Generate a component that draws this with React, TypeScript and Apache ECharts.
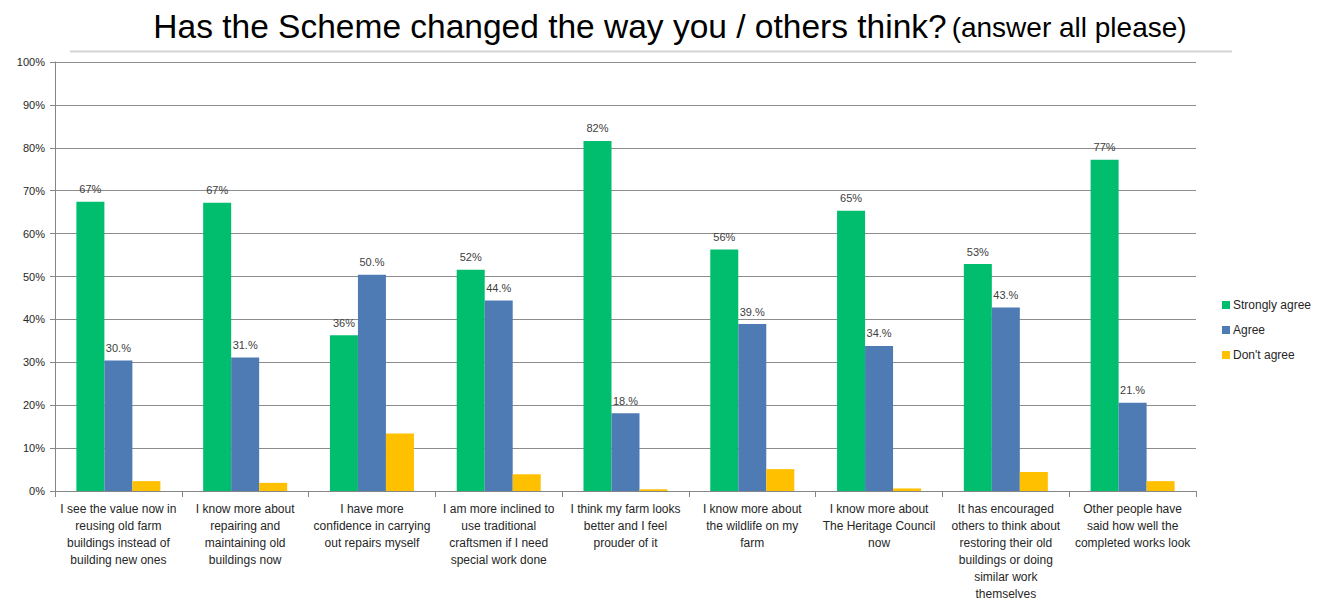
import React, { useEffect, useRef } from "react";
import * as echarts from "echarts";

const categories = [
  "I see the value now in\nreusing old farm\nbuildings instead of\nbuilding new ones",
  "I know more about\nrepairing and\nmaintaining old\nbuildings now",
  "I have more\nconfidence in carrying\nout repairs myself",
  "I am more inclined to\nuse traditional\ncraftsmen if I need\nspecial work done",
  "I think my farm looks\nbetter and I feel\nprouder of it",
  "I know more about\nthe wildlife on my\nfarm",
  "I know more about\nThe Heritage Council\nnow",
  "It has encouraged\nothers to think about\nrestoring their old\nbuildings or doing\nsimilar work\nthemselves",
  "Other people have\nsaid how well the\ncompleted works look",
];

const stronglyAgree = [67.4, 67.2, 36.3, 51.6, 81.6, 56.3, 65.3, 52.9, 77.2];
const agree = [30.4, 31.1, 50.4, 44.4, 18.1, 38.9, 33.8, 42.8, 20.6];
const dontAgree = [2.3, 1.9, 13.4, 3.9, 0.4, 5.1, 0.6, 4.4, 2.3];

const yTicks = [0, 10, 20, 30, 40, 50, 60, 70, 80, 90, 100];

const seriesNames = ["Strongly agree", "Agree", "Don't agree"];
const colors = ["#00BE6E", "#4F7BB5", "#FFC000"];

const FONT = "Liberation Sans, Arial, sans-serif";

export default function App() {
  const ref = useRef<HTMLDivElement>(null);

  useEffect(() => {
    if (!ref.current) return;
    const chart = echarts.init(ref.current, null, { renderer: "svg" });
    const labelCommon = {
      show: true,
      position: "top" as const,
      distance: 7,
      color: "#404040",
      fontSize: 11,
      fontFamily: FONT,
    };
    chart.setOption({
      animation: false,
      backgroundColor: "#ffffff",
      title: {
        text: "{big|Has the Scheme changed the way you / others think?} {small|(answer all please)}",
        left: 665,
        textAlign: "center",
        top: 4,
        textStyle: {
          fontWeight: "normal",
          rich: {
            big: { fontSize: 33.5, fontFamily: FONT, color: "#000000", fontWeight: "normal" },
            small: { fontSize: 28, fontFamily: FONT, color: "#000000", fontWeight: "normal", padding: [2, 0, 0, 0] },
          },
        },
      },
      graphic: [
        {
          type: "line",
          shape: { x1: 70, y1: 51.5, x2: 1232, y2: 51.5 },
          style: { stroke: "#d4d4d4", lineWidth: 2 },
        },
      ],
      legend: {
        orient: "vertical",
        left: 1217,
        top: 294,
        itemWidth: 8,
        itemHeight: 8,
        itemGap: 13,
        icon: "rect",
        data: seriesNames,
        textStyle: { fontSize: 12, fontFamily: FONT, color: "#262626", padding: [0, 0, 0, -2] },
      },
      grid: { left: 55, right: 132, top: 62, bottom: 110, containLabel: false },
      xAxis: {
        type: "category",
        data: categories,
        axisLine: { lineStyle: { color: "#868686" } },
        axisTick: { show: true, alignWithLabel: false, length: 6, lineStyle: { color: "#868686" } },
        axisLabel: {
          interval: 0,
          color: "#262626",
          fontSize: 12,
          fontFamily: FONT,
          lineHeight: 17,
          margin: 9,
        },
      },
      yAxis: {
        type: "value",
        min: 0,
        max: 100,
        interval: 10,
        axisLine: { show: true, lineStyle: { color: "#868686" } },
        axisTick: { show: true, length: 5, lineStyle: { color: "#868686" } },
        splitLine: { lineStyle: { color: "#8c8c8c" } },
        axisLabel: {
          color: "#262626",
          fontSize: 11,
          fontFamily: FONT,
          margin: 10,
          formatter: (v: number) => (yTicks.includes(v) ? v + "%" : ""),
        },
      },
      series: [
        {
          name: seriesNames[0],
          type: "bar",
          data: stronglyAgree,
          barWidth: 28,
          barGap: "0%",
          itemStyle: { color: colors[0] },
          label: { ...labelCommon, formatter: (p: any) => Math.round(p.value) + "%" },
        },
        {
          name: seriesNames[1],
          type: "bar",
          data: agree,
          barWidth: 28,
          barGap: "0%",
          itemStyle: { color: colors[1] },
          label: { ...labelCommon, formatter: (p: any) => Math.round(p.value) + ".%" },
        },
        {
          name: seriesNames[2],
          type: "bar",
          data: dontAgree,
          barWidth: 28,
          barGap: "0%",
          itemStyle: { color: colors[2] },
          label: { show: false },
        },
      ],
    });
    return () => chart.dispose();
  }, []);

  return (
    <div
      ref={ref}
      style={{ position: "fixed", left: 0, top: 0, width: 1328, height: 602, background: "#fff" }}
    />
  );
}
